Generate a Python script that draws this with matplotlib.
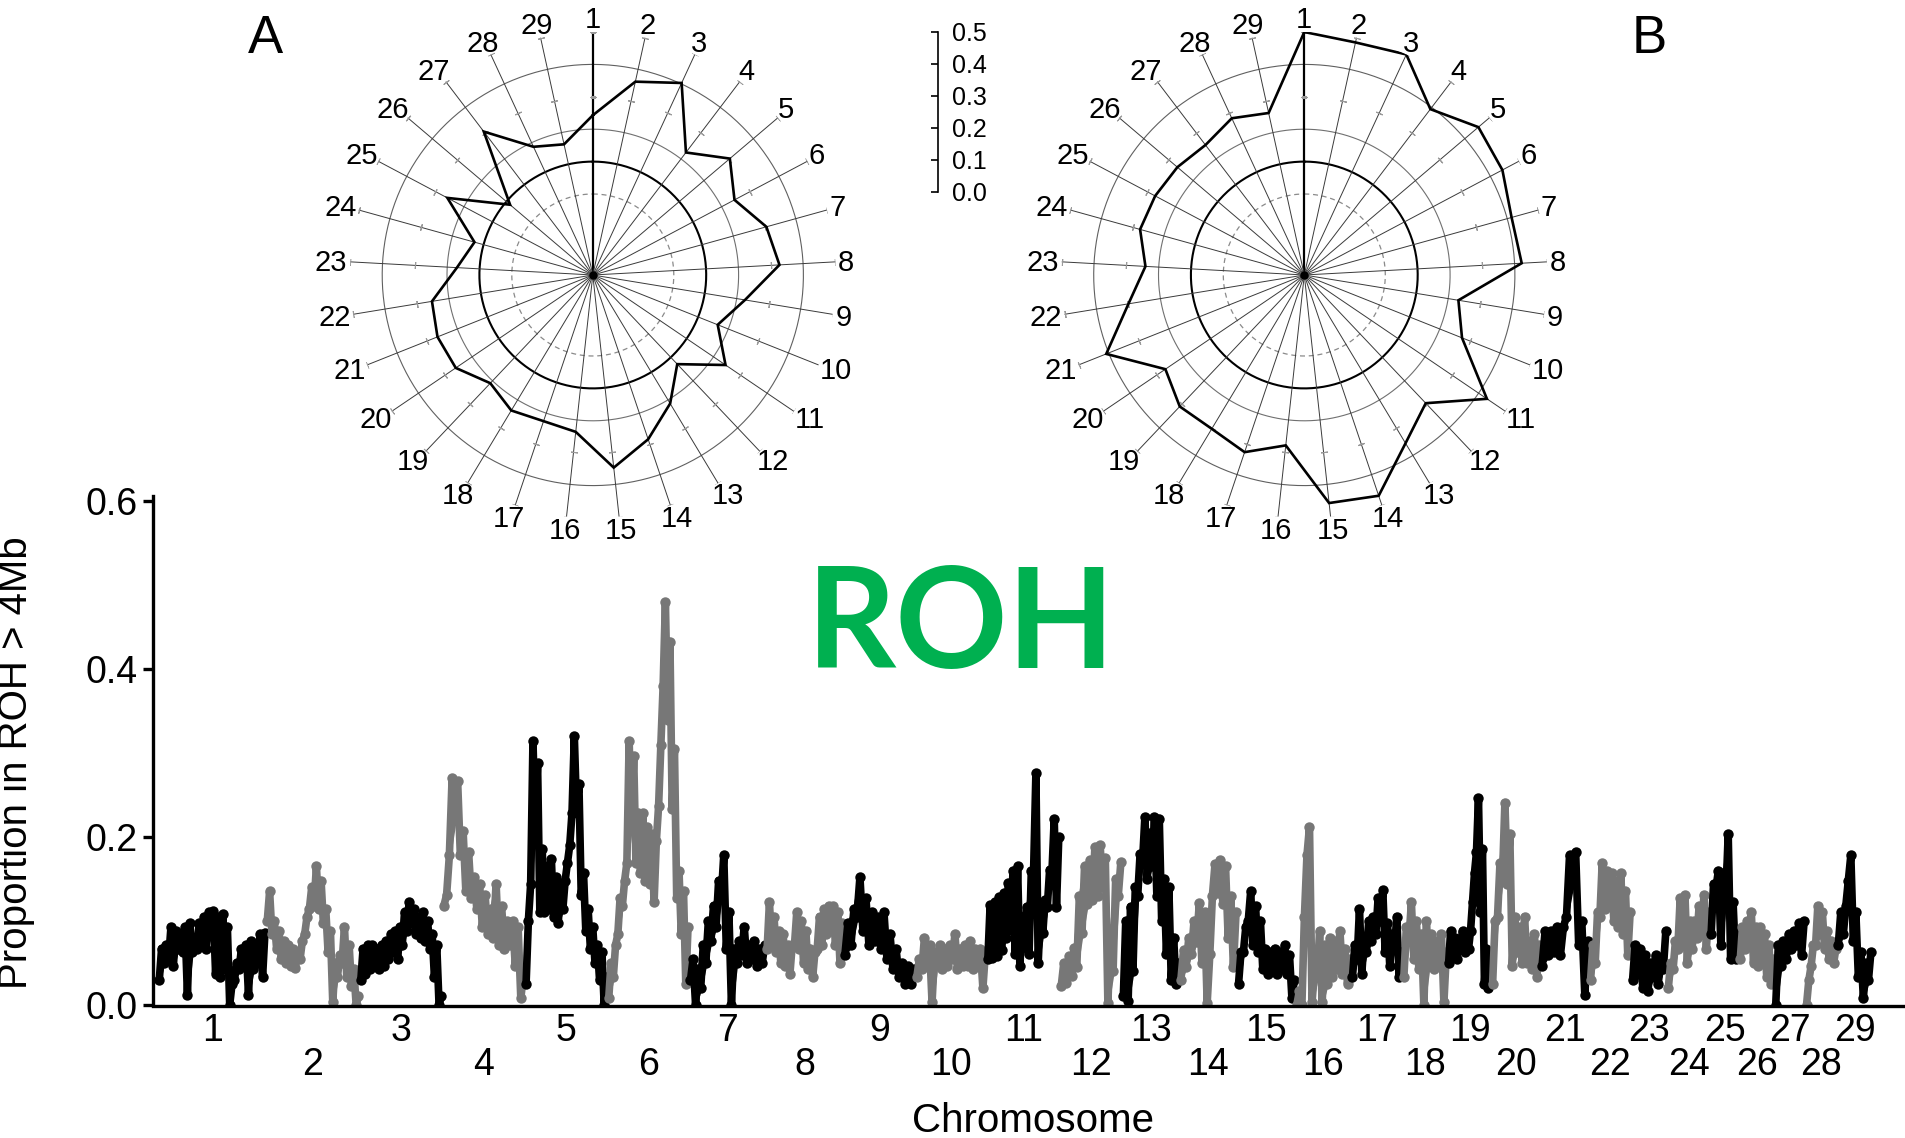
import numpy as np
import matplotlib
matplotlib.use('Agg')
import matplotlib.pyplot as plt

plt.rcParams['font.family'] = ['Liberation Sans', 'DejaVu Sans']

# ---- data ----
chrom_names = [str(i) for i in range(1, 30)]
# bovine autosome lengths (Mb), used as x positions
chrom_len = [158.3, 137.1, 121.4, 120.8, 121.2, 119.5, 112.6, 113.4, 105.7, 104.3,
             107.3, 91.2, 84.2, 84.6, 85.3, 81.7, 75.2, 66.0, 64.1, 72.0,
             71.6, 61.4, 52.5, 62.7, 42.9, 51.7, 45.4, 46.3, 51.5]

# lower / upper edge of the point cloud, read along each chromosome
roh_low = [
    [0.029, 0.050, 0.055, 0.046, 0.067, 0.063, 0.012, 0.063, 0.067, 0.071, 0.067, 0.084,
     0.037, 0.033, 0.042, 0.000, 0.029, 0.042, 0.050, 0.012, 0.042, 0.050, 0.033],
    [0.100, 0.084, 0.067, 0.054, 0.050, 0.046, 0.044, 0.054, 0.084, 0.114, 0.118, 0.114,
     0.097, 0.063, 0.003, 0.033, 0.050, 0.033, 0.022, 0.000],
    [0.029, 0.037, 0.042, 0.046, 0.042, 0.046, 0.054, 0.063, 0.054, 0.071, 0.088, 0.097,
     0.084, 0.080, 0.076, 0.067, 0.033, 0.000],
    [0.118, 0.178, 0.220, 0.178, 0.135, 0.127, 0.114, 0.093, 0.084, 0.080, 0.071, 0.067,
     0.071, 0.046, 0.008],
    [0.025, 0.144, 0.212, 0.110, 0.110, 0.114, 0.105, 0.097, 0.114, 0.169, 0.229, 0.229,
     0.131, 0.088, 0.067, 0.050, 0.029, 0.000],
    [0.008, 0.033, 0.084, 0.118, 0.169, 0.212, 0.169, 0.157, 0.148, 0.144, 0.122, 0.237,
     0.380, 0.340, 0.233, 0.127, 0.084, 0.025],
    [0.029, 0.000, 0.020, 0.050, 0.076, 0.093, 0.127, 0.067, 0.000, 0.050, 0.059, 0.050,
     0.054, 0.046, 0.050],
    [0.067, 0.071, 0.063, 0.050, 0.046, 0.037, 0.071, 0.067, 0.050, 0.042, 0.033, 0.067,
     0.071, 0.084, 0.088, 0.071, 0.050],
    [0.059, 0.071, 0.105, 0.088, 0.071, 0.076, 0.067, 0.054, 0.042, 0.033, 0.025, 0.025],
    [0.033, 0.042, 0.046, 0.003, 0.050, 0.042, 0.046, 0.054, 0.042, 0.046, 0.046, 0.042,
     0.050, 0.020],
    [0.054, 0.056, 0.058, 0.065, 0.080, 0.089, 0.060, 0.046, 0.069, 0.060, 0.160, 0.050,
     0.085, 0.117, 0.157, 0.117],
    [0.022, 0.026, 0.034, 0.045, 0.085, 0.120, 0.125, 0.130, 0.140, 0.002, 0.040, 0.130],
    [0.010, 0.005, 0.040, 0.130, 0.170, 0.150, 0.165, 0.130, 0.100, 0.060, 0.030, 0.025],
    [0.030, 0.045, 0.060, 0.075, 0.050, 0.002, 0.130, 0.133, 0.120, 0.080, 0.045],
    [0.025, 0.063, 0.100, 0.071, 0.063, 0.042, 0.037, 0.042, 0.037, 0.042, 0.037, 0.008],
    [0.000, 0.000, 0.178, 0.003, 0.033, 0.003, 0.025, 0.033, 0.042, 0.037, 0.025],
    [0.033, 0.054, 0.037, 0.063, 0.076, 0.084, 0.100, 0.063, 0.046, 0.067, 0.033],
    [0.033, 0.076, 0.054, 0.042, 0.000, 0.046, 0.042, 0.050, 0.003],
    [0.050, 0.059, 0.054, 0.071, 0.063, 0.067, 0.122, 0.182, 0.110, 0.025, 0.020],
    [0.025, 0.105, 0.152, 0.144, 0.046, 0.063, 0.050, 0.050, 0.042, 0.033],
    [0.046, 0.059, 0.063, 0.059, 0.105, 0.144, 0.071, 0.012],
    [0.029, 0.050, 0.105, 0.114, 0.118, 0.100, 0.093, 0.084, 0.059],
    [0.029, 0.037, 0.020, 0.016, 0.033, 0.025, 0.042],
    [0.020, 0.042, 0.067, 0.071, 0.050, 0.067, 0.080, 0.084, 0.067],
    [0.084, 0.140, 0.071, 0.127, 0.054, 0.054],
    [0.054, 0.067, 0.076, 0.050, 0.046, 0.054, 0.033, 0.025],
    [0.000, 0.046, 0.054, 0.067, 0.071, 0.059],
    [0.000, 0.046, 0.071, 0.084, 0.067, 0.054, 0.050],
    [0.071, 0.084, 0.148, 0.076, 0.033, 0.008, 0.029],
]
roh_high = [
    [0.067, 0.071, 0.093, 0.088, 0.084, 0.093, 0.097, 0.076, 0.097, 0.105, 0.110, 0.112,
     0.105, 0.108, 0.093, 0.025, 0.050, 0.067, 0.071, 0.076, 0.071, 0.084, 0.086],
    [0.135, 0.100, 0.088, 0.076, 0.071, 0.067, 0.063, 0.076, 0.105, 0.140, 0.165, 0.148,
     0.114, 0.088, 0.050, 0.059, 0.093, 0.071, 0.042, 0.010],
    [0.067, 0.071, 0.071, 0.067, 0.071, 0.076, 0.084, 0.088, 0.093, 0.110, 0.122, 0.114,
     0.105, 0.110, 0.100, 0.084, 0.071, 0.010],
    [0.131, 0.270, 0.267, 0.207, 0.182, 0.152, 0.144, 0.131, 0.114, 0.144, 0.118, 0.100,
     0.100, 0.093, 0.037],
    [0.100, 0.314, 0.288, 0.186, 0.165, 0.174, 0.152, 0.144, 0.148, 0.190, 0.320, 0.263,
     0.157, 0.114, 0.093, 0.071, 0.063, 0.033],
    [0.050, 0.071, 0.127, 0.148, 0.314, 0.297, 0.229, 0.229, 0.212, 0.203, 0.195, 0.310,
     0.480, 0.433, 0.305, 0.160, 0.135, 0.093],
    [0.054, 0.042, 0.071, 0.100, 0.118, 0.148, 0.178, 0.110, 0.067, 0.076, 0.093, 0.071,
     0.076, 0.067, 0.071],
    [0.122, 0.105, 0.088, 0.084, 0.071, 0.071, 0.110, 0.100, 0.088, 0.067, 0.063, 0.105,
     0.114, 0.118, 0.118, 0.110, 0.097],
    [0.097, 0.114, 0.152, 0.127, 0.110, 0.105, 0.110, 0.084, 0.067, 0.050, 0.046, 0.042],
    [0.054, 0.080, 0.071, 0.063, 0.071, 0.067, 0.071, 0.084, 0.067, 0.071, 0.076, 0.067,
     0.067, 0.063],
    [0.119, 0.122, 0.128, 0.133, 0.145, 0.160, 0.165, 0.105, 0.117, 0.160, 0.276, 0.113,
     0.125, 0.161, 0.221, 0.200],
    [0.050, 0.058, 0.068, 0.130, 0.165, 0.172, 0.188, 0.190, 0.175, 0.090, 0.150, 0.170],
    [0.100, 0.117, 0.140, 0.180, 0.224, 0.205, 0.224, 0.222, 0.150, 0.140, 0.080, 0.050],
    [0.065, 0.080, 0.100, 0.121, 0.110, 0.060, 0.168, 0.172, 0.165, 0.130, 0.110],
    [0.063, 0.093, 0.135, 0.118, 0.100, 0.067, 0.063, 0.067, 0.063, 0.071, 0.059, 0.029],
    [0.016, 0.105, 0.212, 0.042, 0.088, 0.071, 0.080, 0.076, 0.088, 0.067, 0.054],
    [0.071, 0.114, 0.080, 0.100, 0.105, 0.127, 0.137, 0.097, 0.084, 0.105, 0.063],
    [0.093, 0.122, 0.100, 0.084, 0.100, 0.084, 0.076, 0.084, 0.063],
    [0.088, 0.080, 0.071, 0.088, 0.084, 0.088, 0.157, 0.246, 0.186, 0.067, 0.042],
    [0.100, 0.169, 0.241, 0.203, 0.105, 0.093, 0.105, 0.076, 0.084, 0.071],
    [0.088, 0.088, 0.093, 0.093, 0.178, 0.182, 0.100, 0.076],
    [0.071, 0.110, 0.169, 0.160, 0.157, 0.148, 0.157, 0.135, 0.110],
    [0.071, 0.067, 0.059, 0.050, 0.059, 0.050, 0.088],
    [0.050, 0.076, 0.127, 0.131, 0.100, 0.100, 0.118, 0.131, 0.110],
    [0.144, 0.160, 0.157, 0.203, 0.122, 0.088],
    [0.093, 0.100, 0.110, 0.093, 0.093, 0.084, 0.071, 0.054],
    [0.071, 0.076, 0.084, 0.088, 0.097, 0.100],
    [0.029, 0.071, 0.118, 0.110, 0.088, 0.076, 0.067],
    [0.110, 0.118, 0.178, 0.110, 0.063, 0.050, 0.063],
]

# radar panels (same radial scale as the little 0.0-0.5 bar)
radar_a = [0.343, 0.461, 0.503, 0.325, 0.405, 0.345, 0.406, 0.427, 0.326, 0.265,
           0.345, 0.229, 0.313, 0.385, 0.448, 0.337, 0.326, 0.338, 0.310, 0.361,
           0.366, 0.353, 0.270, 0.229, 0.358, 0.185, 0.406, 0.286, 0.263]
radar_b = [0.600, 0.585, 0.600, 0.493, 0.555, 0.542, 0.514, 0.522, 0.332, 0.374,
           0.531, 0.395, 0.456, 0.569, 0.558, 0.379, 0.427, 0.404, 0.409, 0.368,
           0.508, 0.400, 0.341, 0.376, 0.371, 0.364, 0.354, 0.383, 0.362]
scale_ticks = [0.0, 0.1, 0.2, 0.3, 0.4, 0.5]
y_ticks = [0.0, 0.2, 0.4, 0.6]

W, H = 1905, 1138
fig = plt.figure(figsize=(W / 100, H / 100), dpi=100)
fig.patch.set_facecolor('white')

# ---------------- bottom: genome-wide proportion ----------------
ax = fig.add_axes([153.3 / W, 1 - 1006.4 / H, 1751.7 / W, 510.8 / H])
ax.patch.set_visible(False)
starts = np.concatenate([[0], np.cumsum(chrom_len)[:-1]])
for i in range(len(chrom_len)):
    n = len(roh_low[i])
    step = chrom_len[i] / n
    pos = starts[i] + (np.arange(n) + 0.5) * step
    col = 'black' if i % 2 == 0 else '#777777'
    # dense band of points between the lower and upper edge
    ax.fill_between(pos, roh_low[i], roh_high[i], color=col, lw=0, zorder=2)
    xs = np.column_stack([pos - step * 0.25, pos + step * 0.25]).ravel()
    ys = np.column_stack([roh_low[i], roh_high[i]]).ravel()
    ax.plot(xs, ys, color=col, lw=5.5, marker='o', ms=7.5, mew=0,
            solid_joinstyle='round', solid_capstyle='round', zorder=2)

ax.set_xlim(-7, 2560)
ax.set_ylim(-0.002, 0.607)
for s in ['top', 'right']:
    ax.spines[s].set_visible(False)
ax.spines['left'].set_linewidth(2.4)
ax.spines['bottom'].set_linewidth(2.4)
ax.spines['left'].set_bounds(0, 0.607)

mids = starts + np.array(chrom_len) / 2
ax.set_xticks(mids[0::2])
ax.set_xticklabels(chrom_names[0::2])
ax.set_xticks(mids[1::2], minor=True)
ax.set_xticklabels(chrom_names[1::2], minor=True)
ax.tick_params(axis='x', which='major', length=0, pad=5, labelsize=27)
ax.tick_params(axis='x', which='minor', length=0, pad=29.5, labelsize=27)

ax.set_yticks(y_ticks)
ax.set_yticklabels(['%.1f' % t for t in y_ticks])
ax.tick_params(axis='y', direction='out', length=7, width=2.4, pad=4, labelsize=27)

ax.set_xlabel('Chromosome', fontsize=29, va='baseline')
ax.xaxis.set_label_coords(0.502, (1006.4 - 1131.7) / 510.8)
ax.set_ylabel('Proportion in ROH > 4Mb', fontsize=29)
ax.yaxis.set_label_coords((35 - 153.3) / 1751.7, 0.477)

# ---------------- radar panels ----------------
r_center, r_max = -0.15, 0.6
rings = [(0.1, '#8a8a8a', 0.9, (0, (4, 3))),
         (0.2, 'black', 1.5, '-'),
         (0.3, '#707070', 0.8, '-'),
         (0.5, '#606060', 0.8, '-')]
label_fs = 21


def draw_radar(cx, cy, values):
    R = 243
    rax = fig.add_axes([(cx - R) / W, 1 - (cy + R) / H, 2 * R / W, 2 * R / H],
                       projection='polar')
    rax.set_theta_zero_location('N')
    rax.set_theta_direction(-1)
    rax.set_ylim(r_center, r_max)
    rax.grid(False)
    rax.spines['polar'].set_visible(False)
    rax.patch.set_visible(False)
    rax.set_yticks([])
    rax.set_xticks([])
    theta = np.deg2rad(np.arange(29) * 360.0 / 29)
    t = np.linspace(0, 2 * np.pi, 500)
    for lev, col, lw, ls in rings:
        rax.plot(t, np.full_like(t, lev), color=col, lw=lw, ls=ls)
    for k, th in enumerate(theta):
        if k == 0:
            rax.plot([th, th], [r_center, r_max], color='black', lw=1.6)
        else:
            rax.plot([th, th], [r_center, r_max], color='#3a3a3a', lw=0.7)
        a = 90 - np.rad2deg(th)
        rax.plot([th, th], [0.4, r_max], ls='none', marker=(2, 2, a), ms=5,
                 mec='#9a9a9a', mew=0.8)
    vals = np.array(values)
    rax.plot(np.append(theta, theta[0]), np.append(vals, vals[0]),
             color='black', lw=1.9, solid_joinstyle='miter')
    rax.plot([0], [r_center], 'o', color='black', ms=5)
    # labels sit with their near edge just past the spoke end
    for th, name in zip(theta, chrom_names):
        w = len(name) * 0.556 * label_fs
        h = 0.72 * label_fs
        dx = np.sin(th) * (2 + w / 2)
        dy = np.cos(th) * (2 + h / 2)
        rax.annotate(name, xy=(th, r_max), xytext=(dx, dy - 1),
                     textcoords='offset points', ha='center', va='center',
                     fontsize=label_fs, annotation_clip=False)
    return rax


draw_radar(592.8, 275, radar_a)
draw_radar(1304.3, 275, radar_b)

# small radial scale bar between the two radars
axs = fig.add_axes([930 / W, 1 - 191.7 / H, 7.7 / W, 160 / H])
axs.set_ylim(0, 0.5)
for s in ['left', 'top', 'bottom']:
    axs.spines[s].set_visible(False)
axs.spines['right'].set_linewidth(1.2)
axs.xaxis.set_visible(False)
axs.patch.set_visible(False)
axs.yaxis.tick_right()
axs.set_yticks(scale_ticks)
axs.set_yticklabels(['%.1f' % t for t in scale_ticks])
axs.tick_params(axis='y', direction='in', length=5, width=1.2, pad=10, labelsize=18)

# panel letters and title word
fig.text(265 / W, 1 - 53 / H, 'A', ha='center', va='baseline', fontsize=38)
fig.text(1649 / W, 1 - 53 / H, 'B', ha='center', va='baseline', fontsize=38)
fig.text(961.5 / W, 1 - 667.7 / H, 'ROH', ha='center', va='baseline', fontsize=100,
         fontweight='bold', family=['Lato', 'DejaVu Sans'], color='#00B050')

fig.savefig('out.png', dpi=100, facecolor='white')
